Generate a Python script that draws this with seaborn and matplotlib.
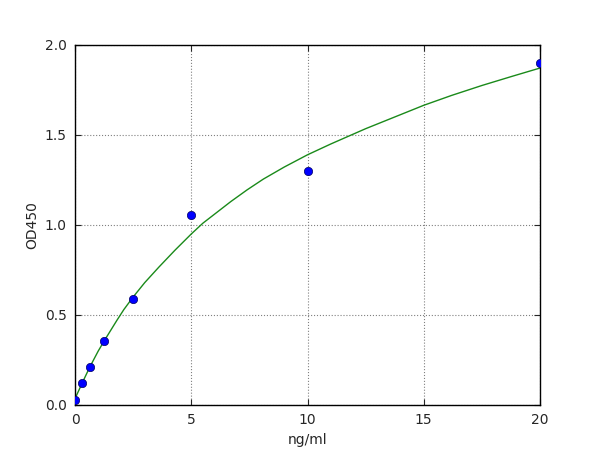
import matplotlib
matplotlib.use("Agg")
import matplotlib.pyplot as plt
import seaborn as sns

# standard points
conc = [0, 0.3125, 0.625, 1.25, 2.5, 5, 10, 20]
od450 = [0.03, 0.12, 0.21, 0.355, 0.59, 1.055, 1.30, 1.90]

# fitted curve
curve_x = [0, 0.3125, 0.625, 1.0, 1.25, 1.8, 2.1, 2.5, 3.0, 3.6, 4.3, 5.0, 5.5,
           6.7, 7.4, 8.1, 9.0, 10, 11, 12.5, 15, 16.2, 17.5, 18.8, 20]
curve_y = [0.035, 0.123, 0.208, 0.30, 0.355, 0.47, 0.53, 0.60, 0.68, 0.765, 0.86, 0.95, 1.01,
           1.13, 1.195, 1.255, 1.322, 1.39, 1.45, 1.535, 1.665, 1.72, 1.775, 1.826, 1.872]

sns.set_style("white")
plt.rcParams["font.family"] = ["DejaVu Sans"]

fig, ax = plt.subplots(figsize=(6, 4.5), dpi=100)
fig.subplots_adjust(left=0.125, right=0.9, top=0.9, bottom=0.1)

sns.lineplot(x=curve_x, y=curve_y, ax=ax, color="#1a8a1a", linewidth=1.0, sort=False)
sns.scatterplot(x=conc, y=od450, ax=ax, color="#0000ff", s=36, edgecolor="#000060",
                linewidth=0.5, zorder=3)

ax.set_xlim(0, 20)
ax.set_ylim(0, 2.0)
ax.set_xticks([0, 5, 10, 15, 20])
ax.set_yticks([0.0, 0.5, 1.0, 1.5, 2.0])
ax.set_yticklabels(["0.0", "0.5", "1.0", "1.5", "2.0"])
ax.grid(True, linestyle=":", color="#808080", linewidth=0.8)
ax.tick_params(direction="in", length=4, labelsize=10, top=True, right=True,
               bottom=True, left=True, pad=6)
for s in ax.spines.values():
    s.set_color("black")
    s.set_linewidth(1.0)

ax.set_xlabel("ng/ml", fontsize=10)
ax.set_ylabel("OD450", fontsize=10)

fig.savefig("out.png", dpi=100, facecolor="white")
